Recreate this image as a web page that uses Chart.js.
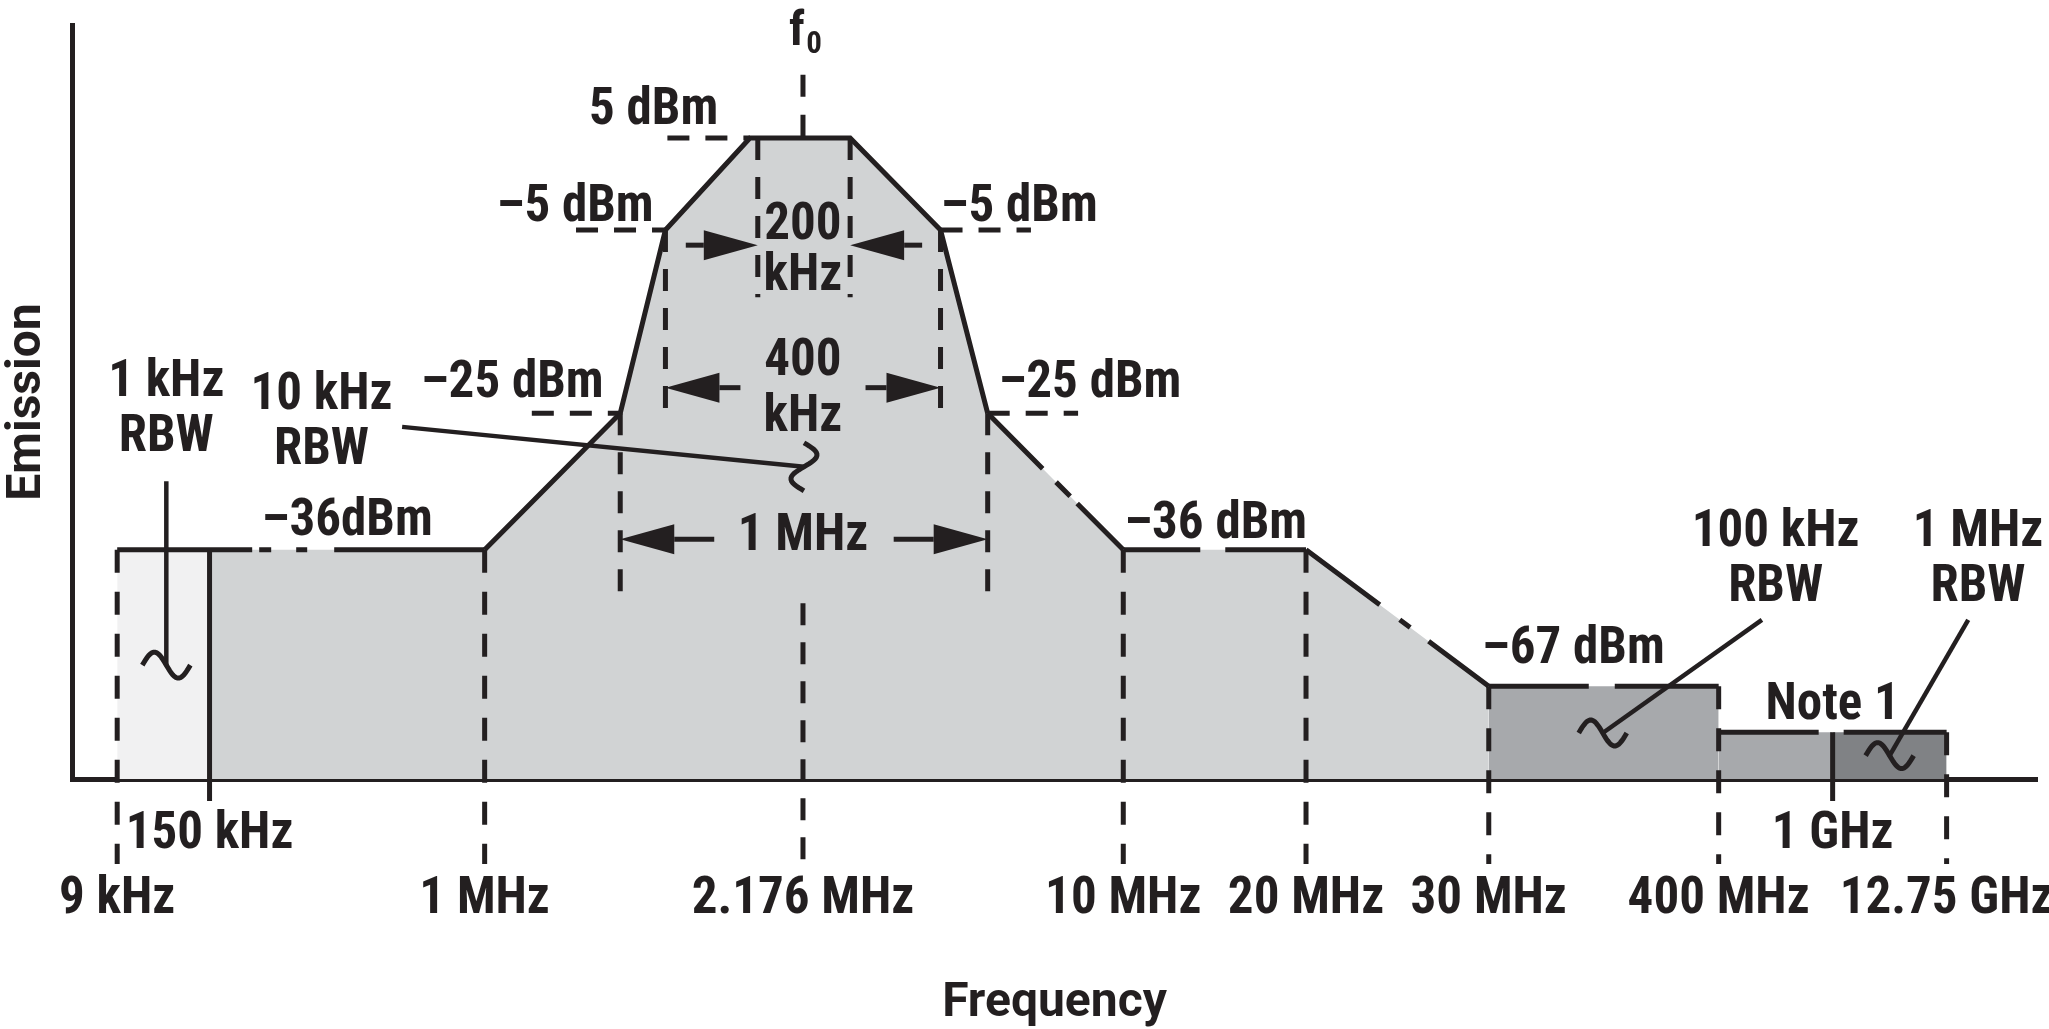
<!DOCTYPE html>
<html>
<head>
<meta charset="utf-8">
<script src="https://cdn.jsdelivr.net/npm/chart.js@4.4.1/dist/chart.umd.min.js"></script>
<style>
  html, body { margin: 0; padding: 0; background: #fff; }
  canvas { display: block; }
</style>
</head>
<body>
<canvas id="maskChart" width="2049" height="1029"></canvas>
<script>
// frequency break points, placed along the schematic frequency axis (0..100)
var freqLabels = ['9 kHz', '150 kHz', '1 MHz', '2.176 MHz', '10 MHz', '20 MHz', '30 MHz', '400 MHz', '1 GHz', '12.75 GHz'];
var freqPos = [2.3, 7.0, 21.0, 37.2, 53.5, 62.8, 72.1, 83.8, 89.6, 95.4];
var freqRow = [1, 0, 1, 1, 1, 1, 1, 1, 0, 1];   // 0 = upper label row, 1 = lower

// emission levels, schematic height (0..100)
var levelLabels = ['5 dBm', '–5 dBm', '–25 dBm', '–36 dBm', '–67 dBm', 'Note 1'];
var levelPos = [85.0, 72.8, 48.5, 30.4, 12.3, 6.2];

// corners of the emission mask, 9 kHz .. 400 MHz
var maskX = [2.3, 21.0, 27.9, 30.2, 34.5, 39.6, 44.2, 46.6, 53.5, 62.8, 72.1, 83.8];
var maskY = [30.4, 30.4, 48.5, 72.8, 85.0, 85.0, 72.8, 48.5, 30.4, 30.4, 12.3, 12.3];

// bandwidths around f0
var bwLabels = [['200', 'kHz'], ['400', 'kHz'], ['1 MHz']];
var bwLeft = [34.9, 30.2, 27.9];
var bwRight = [39.6, 44.2, 46.6];

// resolution bandwidths
var rbwLabels = ['1 kHz', '10 kHz', '100 kHz', '1 MHz'];

var INK = '#231f20';
var NARROW = '"Liberation Sans Narrow", "Roboto Condensed", "DejaVu Sans Condensed", Roboto, sans-serif';
var FS = 51;

function pts(xs, ys) {
    return xs.map(function (x, i) { return {x: x, y: ys[i]}; });
}

// gaps in the mask outline (per segment, pixels)
var outlineBreaks = {
    0: [135, 7, 12, 25, 11, 27, 3000],
    7: [78, 19, 20, 10, 3000],
    8: [77, 25, 3000],
    9: [92, 25, 13, 23, 3000],
    10: [100, 26, 3000]
};

// annotation layout (chart units)
var levelText = [
    {t: levelLabels[0], x: 29.6, y: 88.5},
    {t: levelLabels[1], x: 25.6, y: 75.7},
    {t: levelLabels[1], x: 48.2, y: 75.7},
    {t: levelLabels[2], x: 22.4, y: 52.4},
    {t: levelLabels[2], x: 51.8, y: 52.3},
    {t: '–36dBm', x: 14.0, y: 34.0},
    {t: levelLabels[3], x: 58.2, y: 33.6},
    {t: levelLabels[4], x: 76.4, y: 17.1},
    {t: levelLabels[5], x: 89.6, y: 9.7}
];
var leaders = [
    {lv: 0, x0: 30.3, x1: 34.5},
    {lv: 1, x0: 25.65, x1: 30.2},
    {lv: 1, x0: 44.2, x1: 48.8},
    {lv: 2, x0: 23.4, x1: 27.9},
    {lv: 2, x0: 46.6, x1: 51.2}
];
var freqLines = [
    {f: 0, lv: 3, dash: true, ext: 85},
    {f: 1, lv: 3, dash: false, ext: 22},
    {f: 2, lv: 3, dash: true, ext: 85},
    {f: 4, lv: 3, dash: true, ext: 85},
    {f: 5, lv: 3, dash: true, ext: 85},
    {f: 6, lv: 4, dash: true, ext: 85},
    {f: 7, lv: 4, dash: true, ext: 85},
    {f: 8, lv: 5, dash: false, ext: 22},
    {f: 9, lv: 5, dash: true, ext: 85}
];
var bwStyle = [
    {top: 85.0, bottom: 63.9, arrowY: 70.8, len: 72, inward: true, textY: [73.3, 66.6]},
    {top: 72.8, bottom: 48.5, arrowY: 51.9, len: 75, inward: false, textY: [55.3, 47.9]},
    {top: 48.5, bottom: 24.3, arrowY: 31.8, len: 94, inward: false, textY: [32.1]}
];
var rbwStyle = [
    {tx: 4.8, ty: 52.5, from: [4.8, 39.5], to: [4.8, 15.1], rot: 0},
    {tx: 12.7, ty: 50.8, from: [16.8, 46.7], to: [37.25, 41.4], rot: Math.PI / 2},
    {tx: 86.7, ty: 32.6, from: [86.0, 21.1], to: [77.9, 6.1], rot: 0},
    {tx: 97.0, ty: 32.6, from: [96.5, 21.1], to: [92.5, 3.1], rot: 0}
];

function label(ctx, str, x, y, size, family) {
    ctx.font = 'bold ' + size + 'px ' + (family || NARROW);
    ctx.textAlign = 'center';
    ctx.textBaseline = 'middle';
    ctx.fillText(str, x, y);
}

function line(ctx, x0, y0, x1, y1, w, dash) {
    ctx.beginPath();
    ctx.setLineDash(dash || []);
    ctx.lineWidth = w;
    ctx.moveTo(x0, y0);
    ctx.lineTo(x1, y1);
    ctx.stroke();
}

function arrow(ctx, x0, x1, y) {
    var dir = x1 > x0 ? 1 : -1, head = 54, half = 15;
    line(ctx, x0, y, x1 - dir * head, y, 5);
    ctx.beginPath();
    ctx.moveTo(x1, y);
    ctx.lineTo(x1 - dir * head, y - half);
    ctx.lineTo(x1 - dir * head, y + half);
    ctx.closePath();
    ctx.fill();
}

function tilde(ctx, cx, cy, rot) {
    var w = 48, h = 26;
    ctx.save();
    ctx.translate(cx, cy);
    ctx.rotate(rot);
    ctx.beginPath();
    ctx.setLineDash([]);
    for (var i = 0; i <= 30; i++) {
        var t = i / 30;
        var px = -w / 2 + w * t, py = -Math.sin(2 * Math.PI * t) * h / 2;
        if (i === 0) ctx.moveTo(px, py); else ctx.lineTo(px, py);
    }
    ctx.lineWidth = 5;
    ctx.stroke();
    ctx.restore();
}

var maskNotes = {
    id: 'maskNotes',
    afterDraw: function (chart) {
        var ctx = chart.ctx, xs = chart.scales.x, ys = chart.scales.y;
        var X = function (v) { return xs.getPixelForValue(v); };
        var Y = function (v) { return ys.getPixelForValue(v); };
        var base = ys.bottom;
        ctx.save();
        ctx.strokeStyle = INK;
        ctx.fillStyle = INK;
        ctx.lineCap = 'butt';

        // frequency reference lines
        freqLines.forEach(function (l) {
            var x = X(freqPos[l.f]);
            line(ctx, x, Y(levelPos[l.lv]), x, base + l.ext, 5, l.dash ? [23, 19] : []);
        });
        // f0 line, above and below the mask text
        var xf = X(freqPos[3]);
        line(ctx, xf, Y(93.4), xf, Y(levelPos[0]), 5, [22, 18]);
        line(ctx, xf, Y(23.3), xf, base + 85, 5, [22, 17]);
        ctx.font = 'bold 48px ' + NARROW;
        ctx.textAlign = 'center';
        ctx.textBaseline = 'alphabetic';
        ctx.fillText('f', xf - 6, Y(97.4));
        ctx.font = 'bold 31px ' + NARROW;
        ctx.fillText('0', xf + 11, Y(96.3));

        // level leaders and labels
        leaders.forEach(function (l) {
            line(ctx, X(l.x0), Y(levelPos[l.lv]), X(l.x1), Y(levelPos[l.lv]), 5, [22, 16]);
        });
        levelText.forEach(function (l) { label(ctx, l.t, X(l.x), Y(l.y), FS); });

        // bandwidth markers
        bwStyle.forEach(function (s, i) {
            var xl = X(bwLeft[i]), xr = X(bwRight[i]), ya = Y(s.arrowY);
            line(ctx, xl, Y(s.top), xl, Y(s.bottom), 5, [22, 17]);
            line(ctx, xr, Y(s.top), xr, Y(s.bottom), 5, [22, 17]);
            if (s.inward) {
                arrow(ctx, xl - s.len, xl, ya);
                arrow(ctx, xr + s.len, xr, ya);
            } else {
                arrow(ctx, xl + s.len, xl, ya);
                arrow(ctx, xr - s.len, xr, ya);
            }
            bwLabels[i].forEach(function (t, j) {
                label(ctx, t, X(freqPos[3]), Y(s.textY[j]), FS);
            });
        });

        // RBW callouts
        rbwStyle.forEach(function (s, i) {
            label(ctx, rbwLabels[i], X(s.tx), Y(s.ty), FS);
            label(ctx, 'RBW', X(s.tx), Y(s.ty) + 55, FS);
            line(ctx, X(s.from[0]), Y(s.from[1]), X(s.to[0]), Y(s.to[1]), 4.5);
            tilde(ctx, X(s.to[0]), Y(s.to[1]), s.rot);
        });
        ctx.restore();
    }
};

var mainFill = [{x: freqPos[1], y: levelPos[3]}].concat(pts(maskX, maskY).filter(function (p) {
    return p.x > freqPos[1] && p.x <= freqPos[6];
}));

function band(x0, x1, lv, color) {
    return {
        data: [{x: x0, y: lv}, {x: x1, y: lv}],
        borderWidth: 0, pointRadius: 0, fill: 'origin',
        backgroundColor: color, order: 2
    };
}

new Chart(document.getElementById('maskChart'), {
    type: 'line',
    data: {
        datasets: [
            {
                data: pts(maskX, maskY),
                borderColor: INK, borderWidth: 5, pointRadius: 0, fill: false,
                borderJoinStyle: 'miter', order: 0,
                segment: {
                    borderDash: function (c) { return outlineBreaks[c.p0DataIndex]; }
                }
            },
            {
                data: [{x: freqPos[7], y: levelPos[5]}, {x: freqPos[9], y: levelPos[5]}],
                borderColor: INK, borderWidth: 5, pointRadius: 0, fill: false,
                borderDash: [100, 25, 3000], order: 0
            },
            {
                data: mainFill, borderWidth: 0, pointRadius: 0, fill: 'origin',
                backgroundColor: '#d1d3d4', order: 3
            },
            band(freqPos[0], freqPos[1], levelPos[3], '#f1f1f2'),
            band(freqPos[6], freqPos[7], levelPos[4], '#a7a9ac'),
            band(freqPos[7], freqPos[8], levelPos[5], '#a7a9ac'),
            band(freqPos[8], freqPos[9], levelPos[5], '#808285')
        ]
    },
    options: {
        responsive: false,
        animation: false,
        devicePixelRatio: 1,
        layout: {padding: {top: 25, right: 12, left: 0, bottom: 0}},
        plugins: {legend: {display: false}, tooltip: {enabled: false}},
        scales: {
            x: {
                type: 'linear', min: 0, max: 100, z: 1,
                border: {display: true, color: INK, width: 5},
                grid: {display: false, drawTicks: false},
                afterBuildTicks: function (s) {
                    s.ticks = freqPos.map(function (v) { return {value: v}; });
                },
                ticks: {
                    autoSkip: false, maxRotation: 0, minRotation: 0, padding: 24,
                    color: INK,
                    font: {family: NARROW, weight: 'bold', size: FS, lineHeight: 1.275},
                    callback: function (v, i) {
                        return freqRow[i] === 0 ? [freqLabels[i], ''] : ['', freqLabels[i]];
                    }
                },
                title: {
                    display: true, text: 'Frequency', color: INK, padding: 0,
                    font: {family: 'Roboto', weight: 'bold', size: 48, lineHeight: 1.05}
                },
                afterFit: function (s) { s.height = 250; s.paddingLeft = 0; s.paddingRight = 0; }
            },
            y: {
                min: 0, max: 100, z: 1,
                border: {display: true, color: INK, width: 5},
                grid: {display: false, drawTicks: false},
                ticks: {display: false},
                title: {
                    display: true, text: 'Emission', color: INK, padding: 0,
                    font: {family: 'Roboto', weight: 'bold', size: 48, lineHeight: 1.15}
                },
                afterFit: function (s) { s.width = 72; s.paddingTop = 0; s.paddingBottom = 0; }
            }
        }
    },
    plugins: [maskNotes]
});
</script>
</body>
</html>
